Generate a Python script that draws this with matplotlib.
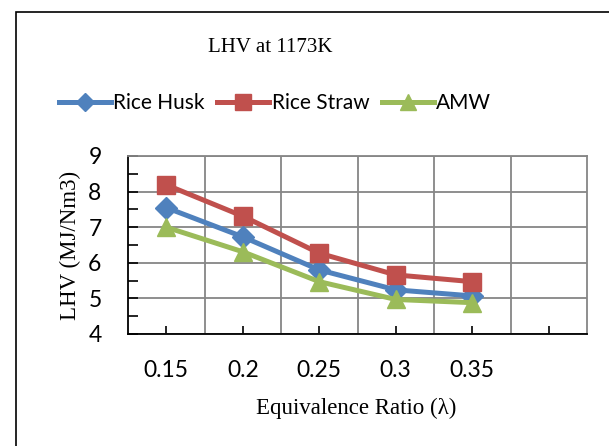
import matplotlib
matplotlib.use('Agg')
import matplotlib.pyplot as plt
from matplotlib.patches import Rectangle

# category labels (last category is empty in the original sheet)
ratios = ['0.15', '0.2', '0.25', '0.3', '0.35', '']
rice_husk = [7.55, 6.73, 5.80, 5.24, 5.07]
rice_straw = [8.19, 7.31, 6.27, 5.66, 5.47]
amw = [7.00, 6.31, 5.47, 4.97, 4.88]

W, H = 609, 446
fig = plt.figure(figsize=(W / 100, H / 100), dpi=100)

# outer chart border
fig.patches.append(Rectangle((16 / W, -0.1), 1.2, (H - 12) / H + 0.1,
                             transform=fig.transFigure, fill=False,
                             edgecolor='black', linewidth=1.2))

ax = fig.add_axes([128 / W, (H - 334) / H, (587 - 128) / W, (334 - 156) / H])

x = list(range(len(ratios)))
ax.plot(x[:5], rice_husk, color='#4F81BD', lw=3.6, marker='D', ms=11,
        label='Rice Husk', zorder=3)
ax.plot(x[:5], rice_straw, color='#C0504D', lw=3.6, marker='s', ms=13,
        label='Rice Straw', zorder=3)
ax.plot(x[:5], amw, color='#9BBB59', lw=3.6, marker='^', ms=13,
        label='AMW', zorder=3)

ax.set_xlim(-0.5, len(ratios) - 0.5)
ax.set_ylim(4, 9)
ax.set_xticks(x)
ax.set_xticklabels(ratios, fontname='Lato', fontsize=16.5)
ax.set_xticks([i + 0.5 for i in range(len(ratios) - 1)], minor=True)
ax.set_yticks(range(4, 10))
ax.set_yticks([i + 0.5 for i in range(4, 9)], minor=True)
for lab in ax.get_yticklabels():
    lab.set_fontname('Lato')
    lab.set_fontsize(16.5)
ax.tick_params(axis='both', which='both', direction='in', color='black',
               width=1.2)
ax.tick_params(axis='x', which='major', length=6, pad=19)
ax.tick_params(axis='x', which='minor', length=0)
ax.tick_params(axis='y', which='both', length=7, pad=19)
ax.grid(True, axis='y', which='major', color='#868686', lw=1.3)
ax.grid(True, axis='x', which='minor', color='#868686', lw=1.3)
for side, s in ax.spines.items():
    s.set_linewidth(1.3)
    s.set_color('black' if side in ('left', 'bottom') else '#868686')

ax.set_ylabel('LHV (MJ/Nm3)', fontname='Liberation Serif', fontsize=16.5,
              va='center')
ax.yaxis.set_label_coords(70 / W, 1 - 245 / H, transform=fig.transFigure)
ax.set_xlabel('Equivalence Ratio (λ)', fontname='Liberation Serif',
              fontsize=16.5, va='center')
ax.xaxis.set_label_coords(356 / W, 1 - 408 / H, transform=fig.transFigure)

fig.text(270 / W, 1 - 47 / H, 'LHV at 1173K', fontname='Liberation Serif',
         fontsize=15, ha='center', va='center')

handles, labels = ax.get_legend_handles_labels()
fig.legend(handles, labels, loc='center', bbox_to_anchor=(275 / W, 1 - 103 / H),
           ncol=3, frameon=False, prop={'family': 'Lato', 'size': 15},
           handlelength=2.5, handletextpad=0.1, columnspacing=0.6,
           markerscale=0.85)

fig.savefig('out.png', dpi=100)
